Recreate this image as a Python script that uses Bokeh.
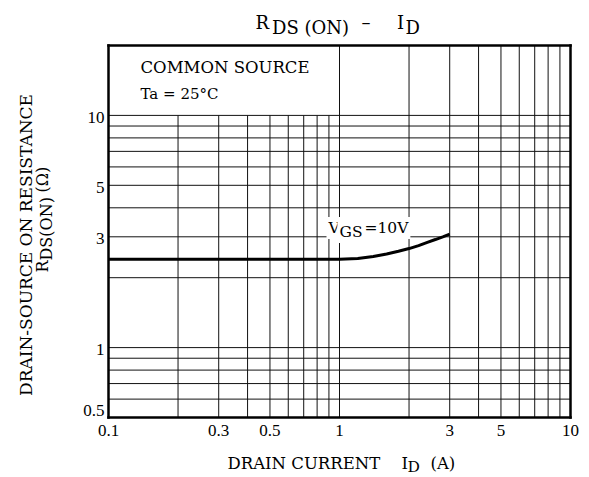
import math
from bokeh.plotting import figure
from bokeh.models import Range1d, Label
from bokeh.embed import file_html
from bokeh.resources import INLINE

# ---- data ----
id_amps = [0.1, 0.3, 0.7, 1.0, 1.2, 1.4, 1.6, 1.8, 2.0, 2.2, 2.4, 2.6, 2.8, 3.0]
rds_on = [2.40, 2.40, 2.40, 2.40, 2.42, 2.47, 2.53, 2.60, 2.67, 2.75, 2.84, 2.92, 3.00, 3.08]

x_ticks = [0.1, 0.3, 0.5, 1, 3, 5, 10]
x_tick_labels = ["0.1", "0.3", "0.5", "1", "3", "5", "10"]
y_ticks = [0.5, 1, 3, 5, 10]
y_tick_labels = ["0.5", "1", "3", "5", "10"]

grid_x = [0.2, 0.3, 0.4, 0.5, 0.6, 0.7, 0.8, 0.9, 1, 2, 3, 4, 5, 6, 7, 8, 9]
grid_y = [0.6, 0.7, 0.8, 0.9, 1, 2, 3, 4, 5, 6, 7, 8, 9, 10]

X_MIN, X_MAX = 0.1, 10
Y_MIN, Y_MAX = 0.5, 20
BOX_TOP = 10      # annotation box area (x < 1) has no grid above this value

SERIF = "DejaVu Serif"
DIGITS = "Liberation Serif"

# ---- layout (pixels) ----
W, H = 589, 477
FRAME_L, FRAME_R, FRAME_T, FRAME_B = 108, 570, 45, 417

# the whole canvas is the data area, so the chart's own frame is drawn inside it
dx = (FRAME_R - FRAME_L) / (math.log10(X_MAX) - math.log10(X_MIN))
dy = (FRAME_B - FRAME_T) / (math.log10(Y_MAX) - math.log10(Y_MIN))
x_lo = 10 ** (math.log10(X_MIN) - FRAME_L / dx)
x_hi = 10 ** (math.log10(X_MAX) + (W - FRAME_R) / dx)
y_lo = 10 ** (math.log10(Y_MIN) - (H - FRAME_B) / dy)
y_hi = 10 ** (math.log10(Y_MAX) + FRAME_T / dy)

p = figure(width=W, height=H, x_axis_type="log", y_axis_type="log",
           x_range=Range1d(x_lo, x_hi), y_range=Range1d(y_lo, y_hi),
           output_backend="svg", toolbar_location=None, title_location=None,
           min_border=0, min_border_left=0, min_border_right=0,
           min_border_top=0, min_border_bottom=0)
p.xaxis.visible = False
p.yaxis.visible = False
p.grid.visible = False
p.background_fill_color = "white"
p.border_fill_color = "white"
p.outline_line_color = None

# grid
gx_top = [Y_MAX if gx >= 1 else BOX_TOP for gx in grid_x]
p.segment(x0=grid_x, y0=[Y_MIN] * len(grid_x), x1=grid_x, y1=gx_top,
          line_color="#111111", line_width=1)
p.segment(x0=[X_MIN] * len(grid_y), y0=grid_y, x1=[X_MAX] * len(grid_y), y1=grid_y,
          line_color="#111111", line_width=1)

# chart frame
p.segment(x0=[X_MIN, X_MAX, X_MIN, X_MIN], y0=[Y_MIN, Y_MIN, Y_MIN, Y_MAX],
          x1=[X_MIN, X_MAX, X_MAX, X_MAX], y1=[Y_MAX, Y_MAX, Y_MIN, Y_MAX],
          line_color="black", line_width=2.5, line_cap="square")

# curve
p.line(id_amps, rds_on, line_color="black", line_width=3)


def page_label(text, px, py, size, font=SERIF, angle=0.0, align="left", bg=None):
    """py is the vertical centre of the text (text_baseline='middle')."""
    kw = {}
    if bg:
        kw = dict(background_fill_color=bg, background_fill_alpha=1.0, padding=2)
    lab = Label(x=X_MIN, y=Y_MAX, x_offset=px - FRAME_L, y_offset=FRAME_T - py,
                text=text, text_font=font, text_font_size=f"{size}px",
                text_color="black", text_align=align, text_baseline="middle",
                angle=angle, **kw)
    p.add_layout(lab)


# tick labels (anchored on data values)
for t, s in zip(x_ticks, x_tick_labels):
    p.add_layout(Label(x=t, y=Y_MIN, y_offset=-13, text=s, text_font=DIGITS,
                       text_font_size="17px", text_align="center",
                       text_baseline="middle", text_color="black"))
for t, s in zip(y_ticks, y_tick_labels):
    off = 7 if t == Y_MIN else -2
    p.add_layout(Label(x=X_MIN, y=t, x_offset=-4, y_offset=off, text=s,
                       text_font=DIGITS, text_font_size="17px",
                       text_align="right", text_baseline="middle",
                       text_color="black"))

# title  R_DS(ON) - I_D
page_label("R", 255, 21.7, 18)
page_label("DS (ON)", 271.5, 26.7, 18)
page_label("\u2013", 361, 22, 18)
page_label("I", 396.5, 21.7, 18)
page_label("D", 405, 26.7, 18)

# box annotation
page_label("COMMON SOURCE", 140, 67, 16.5)
page_label("Ta = 25\u00b0C", 140, 93, 15)

# curve label
page_label("V", 326, 227.5, 15.5, bg="white")
page_label("GS", 337, 231.5, 15.5, bg="white")
page_label("=10V", 362, 227.5, 15.5, bg="white")

# x axis title
page_label("DRAIN CURRENT", 227, 462.5, 16.5)
page_label("I", 401, 462.5, 16.5)
page_label("D", 407, 466, 15.5)
page_label("(A)", 430, 462.5, 16.5)

# y axis title (rotated)
A = math.pi / 2
page_label("DRAIN-SOURCE ON RESISTANCE", 25, 244.5, 17, angle=A, align="center")
page_label("R", 42, 272, 16, angle=A)
page_label("DS(ON)", 46, 260, 16, angle=A)
page_label("(\u03a9)", 42, 192, 16, angle=A)

open("out.html", "w").write(file_html(p, INLINE))
